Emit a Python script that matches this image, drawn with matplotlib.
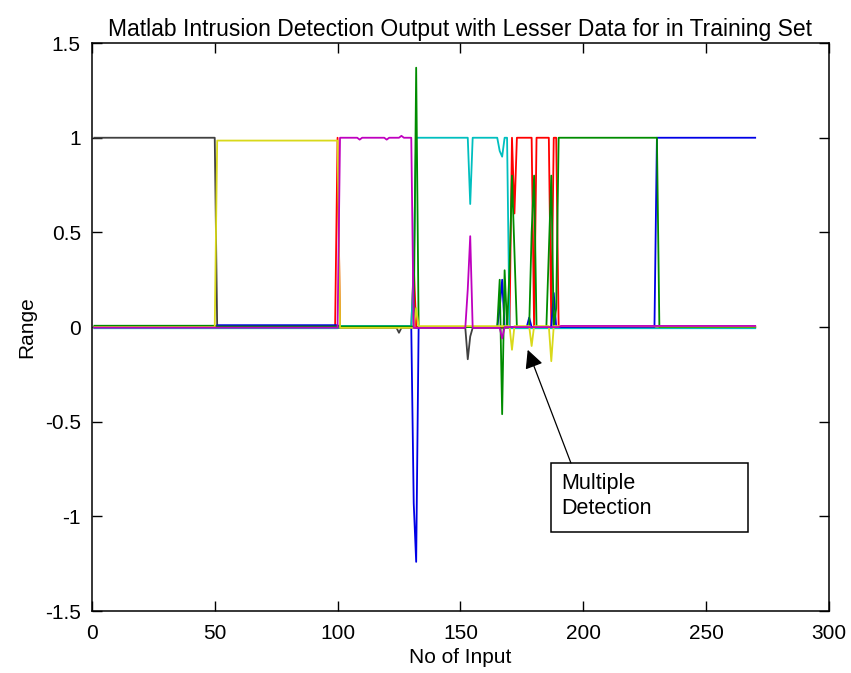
import numpy as np
import matplotlib
matplotlib.use('Agg')
import matplotlib.pyplot as plt
from matplotlib.patches import Rectangle

plt.rcParams['font.family'] = ['Liberation Sans', 'DejaVu Sans']

# network outputs, one polyline per output neuron (x = input number, y = output)
gray_x = [1, 50, 51, 124, 125, 126, 152, 153, 154, 155, 270]
gray_y = [1, 1, -0.004, -0.004, -0.03, -0.004, -0.004, -0.17, -0.05, -0.004, -0.004]

blue_x = [1, 50, 51, 100, 101, 130, 131, 132, 133, 165, 166, 167, 168, 177, 178, 179,
          187, 188, 189, 229, 230, 270]
blue_y = [0, 0, 0.01, 0.01, 0, 0, -0.93, -1.24, 0, 0, 0.1, 0.25, 0, 0, 0.05, 0,
          0, 0.18, 0, 0, 1, 1]

green_x = [1, 50, 51, 131, 132, 133, 165, 166, 167, 168, 169, 170, 171, 172, 173, 178,
           179, 180, 181, 185, 186, 187, 188, 189, 190, 230, 231, 270]
green_y = [0.007, 0.007, 0.003, 0.003, 1.37, 0, 0, 0.25, -0.46, 0.3, 0, 0.3, 0.8, 0.4, 0, 0,
           0.5, 0.8, 0, 0, 0.4, 0.8, 0, 0.1, 1, 1, 0, 0]

red_x = [1, 99, 100, 101, 130, 131, 132, 170, 171, 172, 173, 179, 180, 181, 186, 187,
         188, 189, 190, 270]
red_y = [0, 0, 1, 0, 0, 0.33, 0, 0, 1, 0.6, 1, 1, 0, 1, 1, 0,
         1, 1, 0, 0]

cyan_x = [1, 100, 101, 130, 131, 132, 153, 154, 155, 165, 166, 167, 168, 169, 170, 270]
cyan_y = [-0.006, -0.006, 0.006, 0.006, 0.3, 1, 1, 0.65, 1, 1, 0.93, 0.9, 1, 1, -0.006, -0.006]

magenta_x = [1, 100, 101, 108, 109, 110, 119, 120, 121, 125, 126, 127, 129, 130, 131, 132,
             152, 153, 154, 155, 166, 167, 168, 190, 191, 270]
magenta_y = [-0.003, -0.003, 1, 1, 0.99, 1, 1, 0.99, 1, 1, 1.01, 1, 1, 1, -0.004, -0.004,
             -0.004, 0.2, 0.48, -0.004, -0.004, -0.06, 0, 0, 0.006, 0.006]

yellow_x = [1, 50, 51, 100, 101, 131, 132, 133, 170, 171, 172, 178, 179, 180, 186, 187,
            188, 270]
yellow_y = [0, 0, 0.985, 0.985, -0.004, -0.004, 0.1, 0.005, 0.005, -0.12, 0.005, 0.005, -0.1, 0.005, 0.005, -0.18,
            0.005, 0.003]

x_ticks = [0, 50, 100, 150, 200, 250, 300]
y_ticks = [-1.5, -1, -0.5, 0, 0.5, 1, 1.5]
y_tick_labels = ['-1.5', '-1', '-0.5', '0', '0.5', '1', '1.5']

fig = plt.figure(figsize=(8.51, 6.73), dpi=100)
ax = fig.add_axes([0.108, 0.092, 0.866, 0.844])

lw = 1.3
ax.plot(gray_x, gray_y, color=(0.25, 0.25, 0.25), lw=lw)
ax.plot(red_x, red_y, color=(1, 0, 0), lw=lw)
ax.plot(cyan_x, cyan_y, color=(0, 0.75, 0.75), lw=lw)
ax.plot(blue_x, blue_y, color=(0, 0, 0.9), lw=lw)
ax.plot(green_x, green_y, color=(0, 0.55, 0), lw=lw)
ax.plot(yellow_x, yellow_y, color=(0.85, 0.85, 0.1), lw=lw)
ax.plot(magenta_x, magenta_y, color=(0.75, 0, 0.75), lw=lw)

ax.set_xlim(0, 300)
ax.set_ylim(-1.5, 1.5)
ax.set_xticks(x_ticks)
ax.set_yticks(y_ticks)
ax.set_yticklabels(y_tick_labels)
ax.tick_params(direction='in', length=7, width=1, top=True, right=True,
               labelsize=15, colors='black')
ax.tick_params(axis='x', pad=9)
ax.tick_params(axis='y', pad=8)
for s in ax.spines.values():
    s.set_linewidth(1.1)

ax.set_title('Matlab Intrusion Detection Output with Lesser Data for in Training Set',
             fontsize=16.5, pad=5)
ax.set_xlabel('No of Input', fontsize=15, labelpad=4)
ax.set_ylabel('Range', fontsize=15, labelpad=6)

# text box + arrow
ax.add_patch(Rectangle((186.8, -1.08), 80.2, 0.36, facecolor='white',
                       edgecolor='black', lw=1.1, zorder=5))
ax.text(191.2, -0.77, 'Multiple\nDetection', fontsize=15.5, va='top', ha='left',
        linespacing=1.25, zorder=6)
ax.annotate('', xy=(177.4, -0.12), xytext=(195, -0.718),
            arrowprops=dict(arrowstyle='-|>', color='black', lw=0.9,
                            mutation_scale=28, shrinkA=0, shrinkB=0),
            zorder=6)

fig.savefig('out.png', dpi=100, facecolor='white')
